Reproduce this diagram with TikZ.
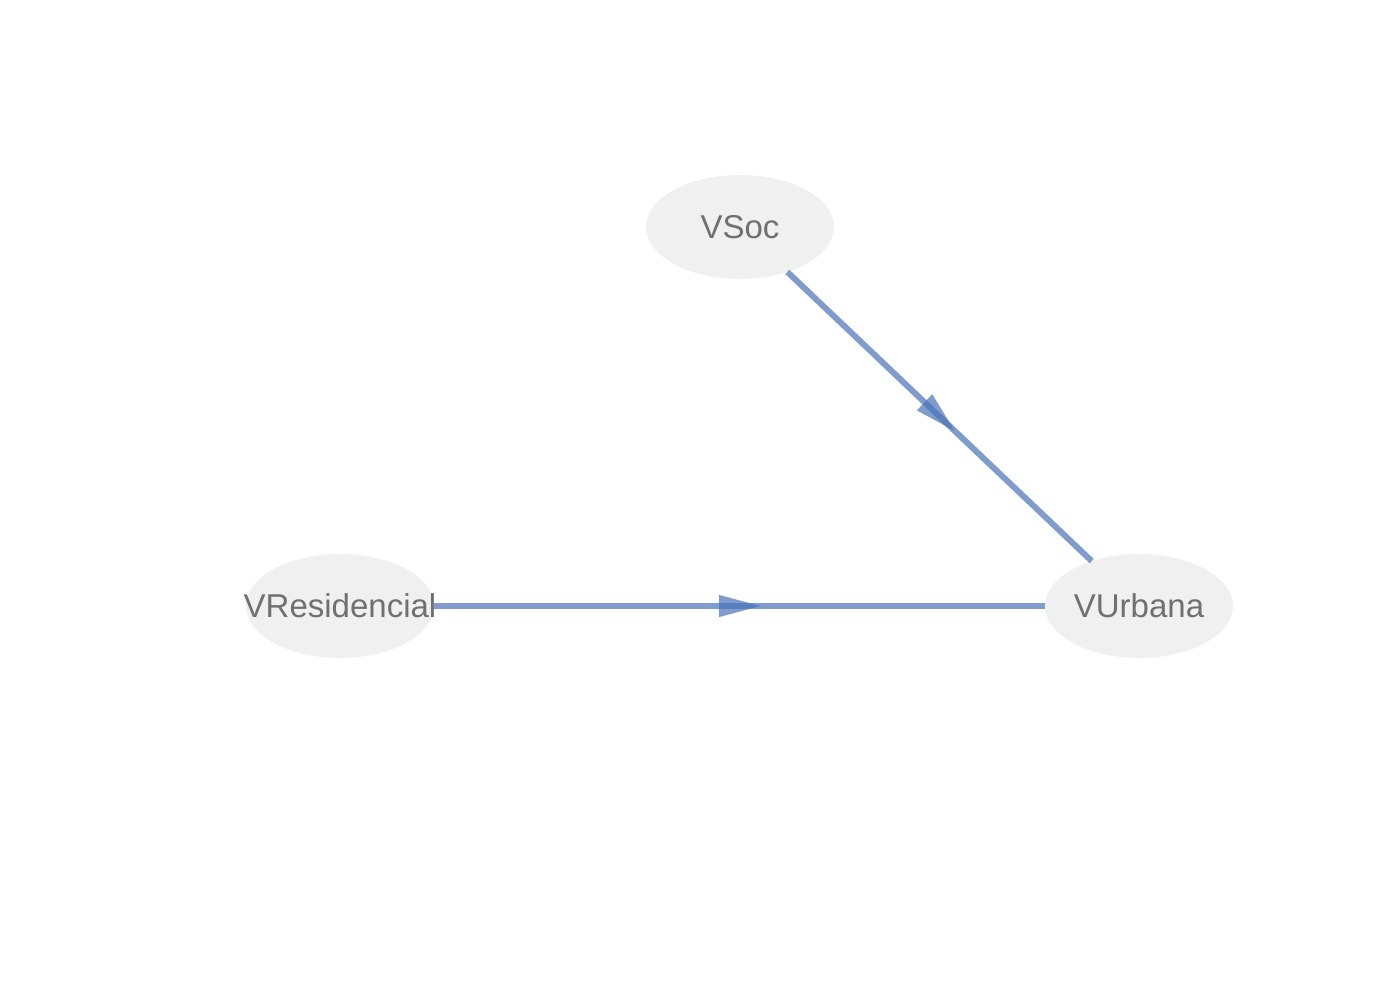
\documentclass[tikz,border=0pt]{standalone}
\usepackage{fontspec}
\setmainfont{Liberation Sans}
\usepackage{tikz}
\usetikzlibrary{shapes.geometric,arrows.meta,decorations.markings}
\definecolor{nodegray}{RGB}{240,240,240}
\definecolor{textgray}{RGB}{112,112,112}
\definecolor{edgeblue}{RGB}{74,114,184}
\newcommand{\varlabel}[1]{\raisebox{-1pt}{\makebox[0pt]{#1}}}
\tikzstyle{var} = [ellipse, fill=nodegray, text=textgray, inner sep=0pt, outer sep=0pt,
    minimum width=94pt, minimum height=52pt, font=\fontsize{16.5}{19}\selectfont]
\tikzstyle{line} = [draw=edgeblue, line width=3pt, draw opacity=0.7,
    postaction={decorate}, decoration={markings,
    mark=at position 0.5 with {\arrow[xshift=10.25pt, edgeblue, opacity=0.7]{Triangle[length=20.5pt, width=11pt, line width=0.01pt]}}}]

\begin{document}
\begin{tikzpicture}[node distance = 1cm, auto]
    \useasboundingbox (0,0) rectangle (700pt,500pt);
    % Place nodes

    \node [var] (v_res) at (170pt,197pt) {\varlabel{VResidencial}};
    \node [var, right of=v_res, node distance=399.5pt] (v_urb) {\varlabel{VUrbana}};
    \node [var] (v_soc) at (370pt,386.5pt) {\varlabel{VSoc}};

    \path [line] (v_soc) -- (v_urb);
    \path [line] (v_res) -- (v_urb);

\end{tikzpicture}
\end{document}
